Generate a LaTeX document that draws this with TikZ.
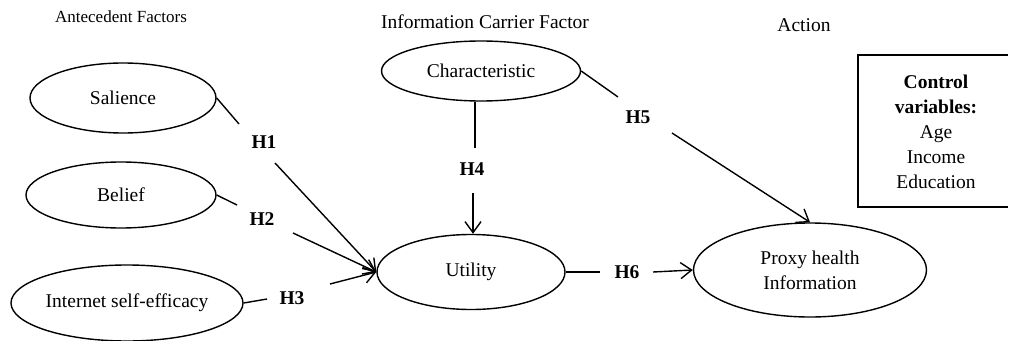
\documentclass[tikz,border=0pt]{standalone}
\usepackage{fontspec}
\setmainfont{Liberation Serif}
\usetikzlibrary{shapes.geometric,arrows.meta}
\begin{document}
\begin{tikzpicture}[x=1pt,y=-1pt,
  every node/.style={font=\fontsize{19.5}{23}\selectfont},
  oval/.style={ellipse,draw,line width=1.4pt,inner sep=0pt},
  hyp/.style={font=\fontsize{19.5}{23}\selectfont\bfseries,inner sep=0pt},
  head/.style={font=\fontsize{19.5}{23}\selectfont},
  link/.style={line width=1.4pt},
  arr/.style={line width=1.4pt,-{Straight Barb[length=11pt,width=16pt,line width=1.4pt]}},
  boxline/.style={line width=2pt,line cap=butt}
]
\fill[white] (0,0) rectangle (1014,340);
\useasboundingbox (0,0) rectangle (1014,340);
% headings
\node[font=\fontsize{17}{20}\selectfont] (hA) at (121,17) {Antecedent Factors};
\node[head] (hI) at (485,22) {Information Carrier Factor};
\node[head] (hAc) at (804,25) {Action};
% ellipses
\node[oval,minimum width=186pt,minimum height=70pt] (sal) at (123,98) {Salience};
\node[oval,minimum width=190pt,minimum height=66pt] (bel) at (121,195) {Belief};
\node[oval,minimum width=232pt,minimum height=76pt] (ise) at (127,303) {Internet self-efficacy};
\node[oval,minimum width=199pt,minimum height=60pt] (cha) at (481,71) {Characteristic};
\node[oval,minimum width=188pt,minimum height=75pt] (uti) at (471,272) {Utility};
\node[oval,minimum width=233pt,minimum height=94pt,align=center,font=\fontsize{19.5}{25}\selectfont] (pro) at (810,270) {Proxy health\\Information};
% control box (its right side lies outside the picture)
\coordinate (bx1) at (858,55);
\coordinate (bx2) at (858,207);
\coordinate (bx3) at (1008,55);
\coordinate (bx4) at (1008,207);
\draw[boxline] (bx3) -- (bx1) -- (bx2) -- (bx4);
\node[align=center,font=\fontsize{19.5}{25}\selectfont] (ctl) at (936,132) {\textbf{Control}\\\textbf{variables:}\\Age\\Income\\Education};
% hypothesis labels
\node[hyp] (h1) at (264,142) {H1};
\node[hyp] (h2) at (262,219) {H2};
\node[hyp] (h3) at (292,298) {H3};
\node[hyp] (h4) at (472,169) {H4};
\node[hyp] (h5) at (638,117) {H5};
\node[hyp] (h6) at (627,272) {H6};
% line ends beside the labels
\coordinate (h1a) at (239,124);
\coordinate (h1b) at (275,163);
\coordinate (h2a) at (237,205);
\coordinate (h2b) at (293,233);
\coordinate (h3a) at (267,299);
\coordinate (h3b) at (330,284);
\coordinate (h4a) at (475,148);
\coordinate (h4b) at (473,193);
\coordinate (h5a) at (618,97);
\coordinate (h5b) at (672,133);
\coordinate (h6a) at (600,272);
\coordinate (h6b) at (653,272);
% connectors
\draw[link] (sal.east) -- (h1a);
\draw[arr] (h1b) -- (uti.west);
\draw[link] (bel.east) -- (h2a);
\draw[arr] (h2b) -- (uti.west);
\draw[link] (ise.east) -- (h3a);
\draw[arr] (h3b) -- (uti.west);
\draw[link] (cha.south -| h4a) -- (h4a);
\draw[arr] (h4b) -- (h4b |- uti.north);
\draw[link] (cha.east) -- (h5a);
\draw[arr] (h5b) -- (pro.north);
\draw[link] (uti.east) -- (h6a);
\draw[arr] (h6b) -- (pro.west);
\end{tikzpicture}
\end{document}
